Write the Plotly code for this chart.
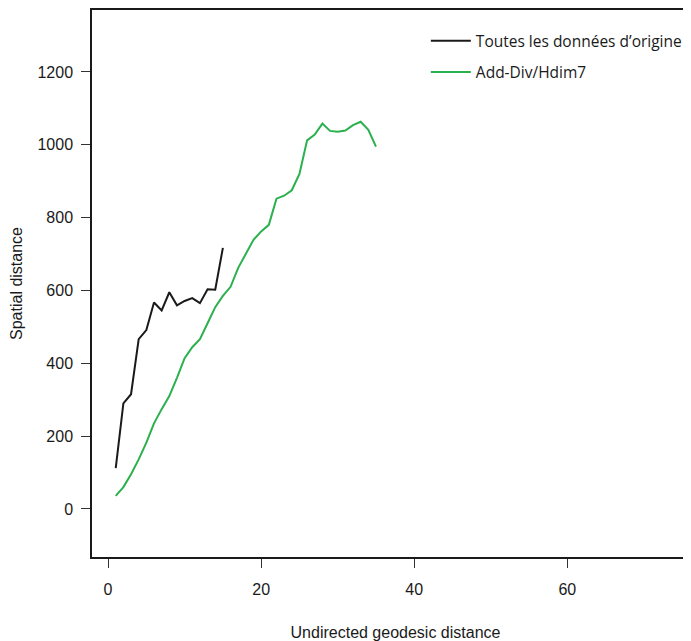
import plotly.graph_objects as go

# geodesic distance steps
geo_orig = list(range(1, 16))
geo_hdim7 = list(range(1, 36))

# spatial distance per step
spatial_orig = [112, 290, 315, 466, 491, 567, 545, 595, 559, 571, 579, 565, 603, 602, 717]
spatial_hdim7 = [36, 60, 95, 136, 182, 235, 274, 310, 360, 414, 444, 466, 510, 554, 585,
                 610, 662, 702, 739, 762, 780, 852, 860, 875, 920, 1012, 1028, 1058, 1038,
                 1036, 1039, 1054, 1063, 1041, 995]

fig = go.Figure()

fig.add_trace(go.Scatter(
    x=geo_orig,
    y=spatial_orig,
    mode='lines',
    name="Toutes les données d’origine",
    legendgroup='a',
    line=dict(color='#1a1a1a', width=2),
))

fig.add_trace(go.Scatter(
    x=geo_hdim7,
    y=spatial_hdim7,
    mode='lines',
    name='Add-Div/Hdim7',
    legendgroup='b',
    line=dict(color='#2bb04e', width=2),
))

axis_font = dict(family='Liberation Sans, Arial', size=16, color='#1a1a1a')

# the page adds an 8px body margin, so margins are trimmed to compensate
fig.update_layout(
    width=691,
    height=641,
    margin=dict(l=84, r=0, t=2, b=92),
    paper_bgcolor='white',
    plot_bgcolor='white',
    font=axis_font,
    legend=dict(
        x=0.550, y=0.974, xanchor='left', yanchor='top',
        font=dict(family='Open Sans', size=15.5, color='#1a1a1a'),
        tracegroupgap=8,
        itemwidth=40,
        bgcolor='rgba(0,0,0,0)',
    ),
)

fig.update_xaxes(
    range=[-2.1, 77.2],
    tickvals=[0, 20, 40, 60],
    ticks='outside', ticklen=9, tickwidth=1, tickcolor='#333',
    ticklabelstandoff=8,
    showline=True, linecolor='#1a1a1a', linewidth=1.5, mirror=True,
    showgrid=False, zeroline=False, automargin=False,
    title=dict(text='Undirected geodesic distance', standoff=30, font=axis_font),
)

fig.update_yaxes(
    range=[-132, 1370],
    tickvals=[0, 200, 400, 600, 800, 1000, 1200],
    ticks='outside', ticklen=9, tickwidth=1, tickcolor='#333',
    ticklabelstandoff=5,
    showline=True, linecolor='#1a1a1a', linewidth=1.5,
    showgrid=False, zeroline=False, automargin=False,
    title=dict(text='Spatial distance', standoff=23, font=axis_font),
)

fig.write_html("out.html")
